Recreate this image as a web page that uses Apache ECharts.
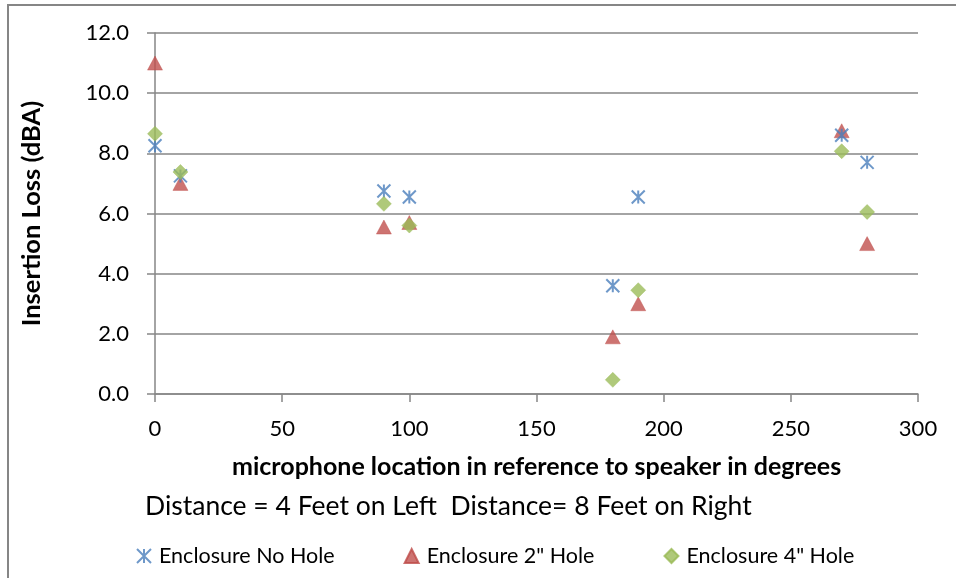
<!DOCTYPE html>
<html>
<head>
<meta charset="utf-8">
<script src="https://cdn.jsdelivr.net/npm/echarts@6/dist/echarts.min.js"></script>
<style>
html,body{margin:0;padding:0;background:#fff;}
#chart{width:956px;height:578px;}
</style>
</head>
<body>
<div id="chart"></div>
<script>
const angles = [0, 10, 90, 100, 180, 190, 270, 280];
const noHole = [8.25, 7.25, 6.75, 6.55, 3.6, 6.55, 8.6, 7.7];
const hole2 = [11.0, 7.0, 5.55, 5.7, 1.9, 3.0, 8.75, 5.0];
const hole4 = [8.65, 7.38, 6.32, 5.6, 0.47, 3.45, 8.07, 6.05];
const seriesNames = ['Enclosure No Hole', 'Enclosure 2" Hole', 'Enclosure 4" Hole'];
const xTitle = 'microphone location in reference to speaker in degrees';
const xSubTitle = 'Distance = 4 Feet on Left  Distance= 8 Feet on Right';
const yTitle = 'Insertion Loss (dBA)';

const FONT = 'Lato';
const GRAY = '#868686';
const pairs = arr => angles.map((a, i) => [a, arr[i]]);

const chart = echarts.init(document.getElementById('chart'), null, {renderer: 'canvas'});
chart.setOption({
  animation: false,
  backgroundColor: '#fff',
  textStyle: {fontFamily: FONT},
  grid: {left: 155, right: 38, top: 33, bottom: 184, containLabel: false},
  xAxis: {
    type: 'value', min: 0, max: 300, interval: 50,
    axisLine: {show: true, lineStyle: {color: GRAY, width: 1.5}},
    axisTick: {show: true, inside: false, length: 8, lineStyle: {color: GRAY, width: 1.5}},
    splitLine: {show: false},
    axisLabel: {color: '#000', fontSize: 22, fontFamily: FONT, margin: 24}
  },
  yAxis: {
    type: 'value', min: 0, max: 12, interval: 2,
    name: yTitle, nameLocation: 'middle', nameGap: 110, nameRotate: 90,
    nameTextStyle: {color: '#000', fontSize: 25.5, fontWeight: 'bold', fontFamily: FONT},
    axisLine: {show: true, lineStyle: {color: GRAY, width: 1.5}},
    axisTick: {show: true, inside: false, length: 8, lineStyle: {color: GRAY, width: 1.5}},
    splitLine: {show: true, lineStyle: {color: GRAY, width: 1.5}},
    axisLabel: {color: '#000', fontSize: 22, fontFamily: FONT, margin: 26,
      formatter: v => v.toFixed(1)}
  },
  legend: {
    bottom: 6, left: 131, itemGap: 69, itemWidth: 14, itemHeight: 14,
    textStyle: {color: '#000', fontSize: 21.5, fontFamily: FONT, padding: [0, 0, 0, 3]},
    data: [
      {name: seriesNames[0]},
      {name: seriesNames[1], textStyle: {padding: [0, 8, 0, 3]}},
      {name: seriesNames[2]}
    ]
  },
  graphic: [
    {type: 'rect', shape: {x: 8, y: 5, width: 1000, height: 1000}, style: {fill: 'none', stroke: GRAY, lineWidth: 2}, silent: true, z: -1},
    {type: 'text', x: 232, y: 467, style: {text: xTitle, fontSize: 25, fontWeight: 'bold', fontFamily: FONT, fill: '#000', verticalAlign: 'middle'}},
    {type: 'text', x: 145, y: 506, style: {text: xSubTitle, fontSize: 26.5, fontFamily: FONT, fill: '#000', verticalAlign: 'middle'}}
  ],
  series: [
    {
      name: seriesNames[0], type: 'scatter', data: pairs(noHole),
      symbol: 'path://M0,0L14,14M14,0L0,14M7,0L7,14', symbolSize: 13,
      itemStyle: {color: 'rgba(0,0,0,0)', borderColor: '#4A7EBB', borderWidth: 2}, z: 3
    },
    {
      name: seriesNames[1], type: 'scatter', data: pairs(hole2),
      symbol: 'triangle', symbolSize: [15, 14],
      itemStyle: {color: '#C0504D', borderColor: '#BE4B48', borderWidth: 0.5}, z: 2
    },
    {
      name: seriesNames[2], type: 'scatter', data: pairs(hole4),
      symbol: 'diamond', symbolSize: [15, 15],
      itemStyle: {color: '#9BBB59', borderColor: '#98B954', borderWidth: 0.5}, z: 4
    }
  ]
});
</script>
</body>
</html>
